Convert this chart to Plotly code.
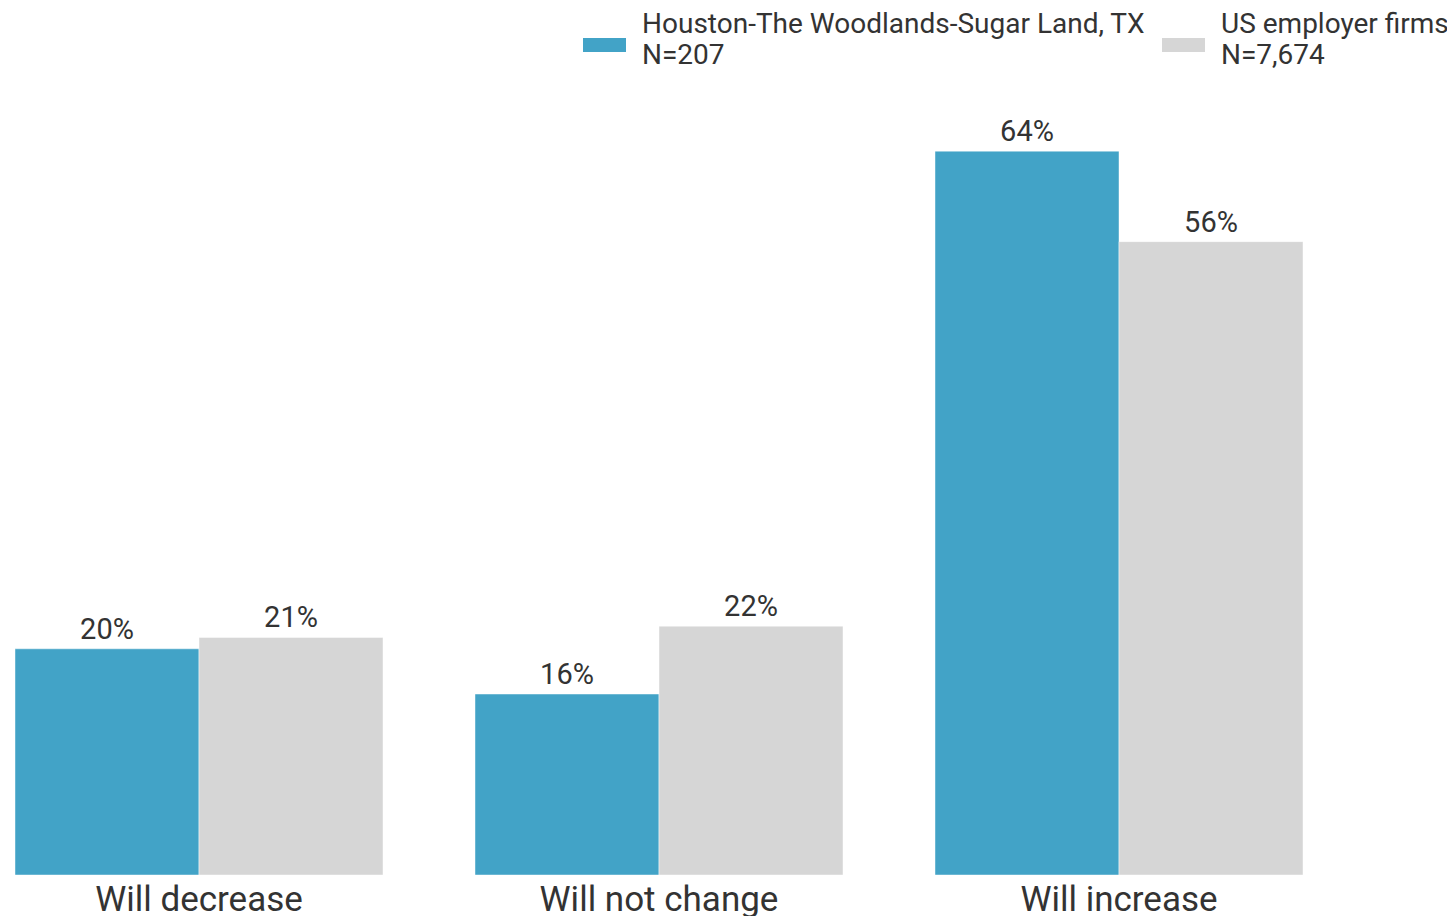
import plotly.graph_objects as go

# data
categories = ["Will decrease", "Will not change", "Will increase"]
houston = [20, 16, 64]
us_firms = [21, 22, 56]
series_names = ["Houston-The Woodlands-Sugar Land, TX", "US employer firms"]
series_n = ["N=207", "N=7,674"]
colors = ["#42A3C7", "#D6D6D6"]

# page body has an 8px margin, so the figure is drawn 8px in from the corner
W, H = 1447, 908
top, bottom = 92, 41
plot_h = H - top - bottom


def py(pixel_y):
    # figure pixel row -> paper y
    return (H - bottom - pixel_y) / plot_h


fig = go.Figure()
for vals, name, col in zip([houston, us_firms], series_names, colors):
    fig.add_trace(go.Bar(
        x=categories,
        y=vals,
        name=name,
        marker=dict(color=col, line=dict(color="rgba(255,255,255,0.45)", width=1)),
        text=[f"{v}%" for v in vals],
        textposition="outside",
        textfont=dict(family="Roboto", size=29, color="#333333"),
        cliponaxis=False,
        showlegend=False,
    ))

# hand-made legend: wide swatches with two-line labels
legend_x = [575, 1154]
shapes = []
annotations = []
for lx, name, n, col in zip(legend_x, series_names, series_n, colors):
    shapes.append(dict(type="rect", xref="paper", yref="paper",
                       x0=lx / W, x1=(lx + 43) / W, y0=py(44), y1=py(30),
                       fillcolor=col, line=dict(width=0)))
    for txt, ty in [(name, 16), (n, 47)]:
        annotations.append(dict(xref="paper", yref="paper", x=(lx + 59) / W, y=py(ty),
                                xanchor="left", yanchor="middle", align="left",
                                text=txt, showarrow=False, xshift=-2,
                                font=dict(family="Roboto", size=28, color="#333333")))

fig.update_layout(
    width=W,
    height=H,
    barmode="group",
    bargap=0.2,
    bargroupgap=0,
    plot_bgcolor="white",
    paper_bgcolor="white",
    margin=dict(l=0, r=0, t=top, b=bottom, autoexpand=False),
    font=dict(family="Roboto", color="#333333"),
    shapes=shapes,
    annotations=annotations,
    xaxis=dict(
        range=[-191 / 460, -191 / 460 + W / 460],
        showgrid=False,
        showline=False,
        zeroline=False,
        ticks="",
        tickfont=dict(family="Roboto", size=35, color="#333333"),
    ),
    yaxis=dict(
        range=[0, plot_h / 11.31],
        visible=False,
    ),
)

fig.write_html("out.html")
